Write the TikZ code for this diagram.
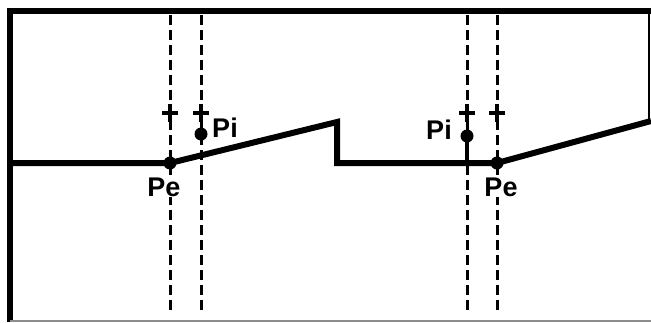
\documentclass[tikz,border=0pt]{standalone}
\usepackage{fontspec}
\setsansfont{Liberation Sans}
\begin{document}
\begin{tikzpicture}[x=1pt,y=-1pt,
  frame/.style={line width=6pt},
  thinframe/.style={line width=2pt},
  profile/.style={line width=6pt, line join=miter},
  guide/.style={line width=3pt, dash pattern=on 10pt off 5pt},
  dotmark/.style={circle, fill, inner sep=0pt, minimum size=13pt},
  lbl/.style={font=\sffamily\bfseries\fontsize{27}{27}\selectfont, inner sep=1pt, fill=white},
  plusmark/.pic={\draw[line width=4.5pt] (-8,0) -- (8,0) (0,-9) -- (0,9);}]
\useasboundingbox (0,0) rectangle (651,322);
% frame
\coordinate (fbl) at (10,322);
\coordinate (ftl) at (10,11);
\coordinate (ftr) at (651,11);
\coordinate (frt) at (649,11);
\coordinate (frm) at (649,122);
\coordinate (fbr) at (651,321);
\coordinate (fbb) at (10,321);
\draw[frame] (fbl) -- (ftl) -- (ftr);
\draw[thinframe] (frt) -- (frm);
\draw[thinframe, black!45] (fbb) -- (fbr);
% guide lines
\foreach \n/\x in {g1/170, g2/201, g3/467, g4/497}{
  \coordinate (\n t) at (\x,15);
  \coordinate (\n b) at (\x,314);
  \draw[guide] (\n t) -- (\n b);
}
% profile
\coordinate (pstart) at (10,163);
\node[dotmark] (pe1) at (170,163) {};
\coordinate (top1) at (337,122);
\coordinate (bot1) at (337,163);
\node[dotmark] (pe2) at (497,163) {};
\coordinate (pend) at (651,121);
\draw[profile] (pstart) -- (pe1.center) -- (top1) -- (bot1) -- (pe2.center) -- (pend);
% Pi points
\node[dotmark] (pi1) at (201,134) {};
\node[dotmark] (pi2) at (467,136) {};
\coordinate (pi2foot) at (467,160);
\draw[line width=3.5pt] (pi2.center) -- (pi2foot);
% plus marks
\pic at (170,113) {plusmark};
\pic at (201,113) {plusmark};
\pic at (467,113) {plusmark};
\pic at (497,113) {plusmark};
% labels
\node[lbl] (lpi1) at (225,128) {Pi};
\node[lbl] (lpi2) at (439,130) {Pi};
\node[lbl] (lpe1) at (164,187) {Pe};
\node[lbl] (lpe2) at (501,187) {Pe};
\end{tikzpicture}
\end{document}
